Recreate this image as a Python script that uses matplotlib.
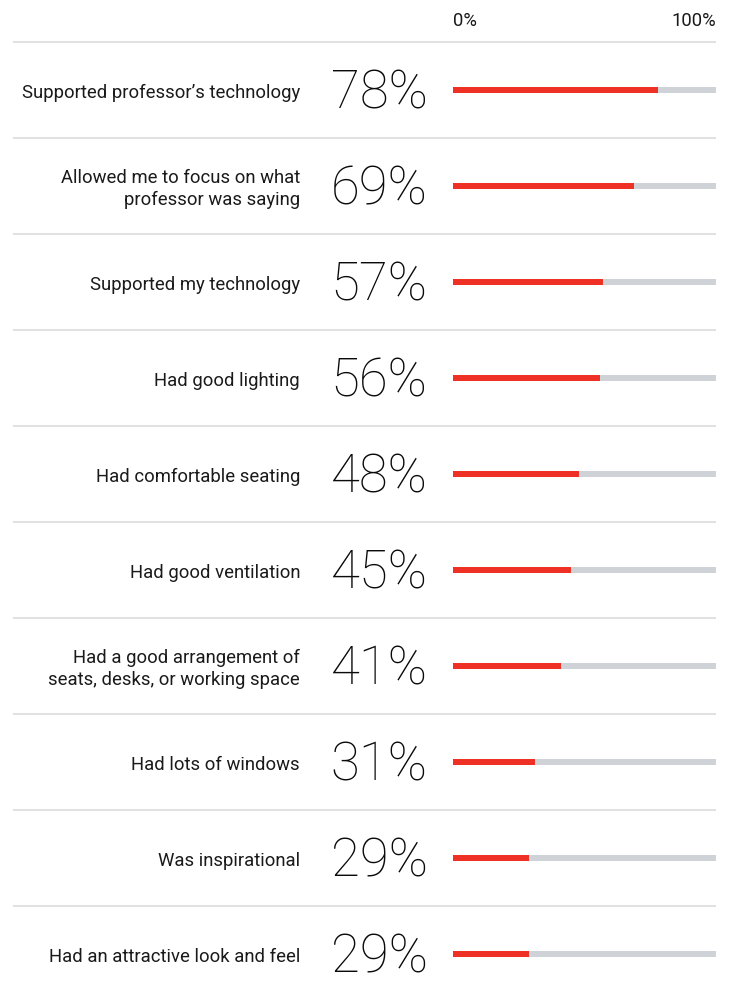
import matplotlib
matplotlib.use("Agg")
import matplotlib.pyplot as plt

categories = [
    "Supported professor\u2019s technology",
    "Allowed me to focus on what\nprofessor was saying",
    "Supported my technology",
    "Had good lighting",
    "Had comfortable seating",
    "Had good ventilation",
    "Had a good arrangement of\nseats, desks, or working space",
    "Had lots of windows",
    "Was inspirational",
    "Had an attractive look and feel",
]
values = [78, 69, 57, 56, 48, 45, 41, 31, 29, 29]
axis_labels = ["0%", "100%"]

W, H = 731, 996
fig = plt.figure(figsize=(W / 100, H / 100), dpi=100)
fig.patch.set_facecolor("white")

lay = fig.add_axes([0, 0, 1, 1])
lay.set_xlim(0, W)
lay.set_ylim(H, 0)
lay.axis("off")

row_top = 42
row_h = 96
n = len(categories)
sep_color = "#d9dbde"
for i in range(n):
    y = row_top + i * row_h
    lay.plot([13, 716], [y, y], color=sep_color, lw=1.2, solid_capstyle="butt")

label_font = dict(family=["Roboto", "DejaVu Sans"], fontsize=13.3, color="#1a1a1a", fontweight="normal")
pct_font = dict(family=["Roboto", "DejaVu Sans"], fontsize=38, color="#0a0a0a", fontweight="light")

for i, (cat, v) in enumerate(zip(categories, values)):
    yc = row_top + i * row_h + row_h / 2
    lay.text(300, yc + 3, cat, ha="right", va="center", linespacing=1.3, **label_font)
    lay.text(379, yc + 4, f"{v}%", ha="center", va="center", **pct_font)

lay.text(453, 21, axis_labels[0], ha="left", va="center", **label_font)
lay.text(716, 21, axis_labels[1], ha="right", va="center", **label_font)

x0, x1 = 453, 716
bax = fig.add_axes([x0 / W, 0, (x1 - x0) / W, 1])
bax.set_xlim(0, 100)
center0 = row_top + row_h / 2
bax.set_ylim((H - center0) / row_h, -center0 / row_h)
bax.axis("off")
bax.patch.set_alpha(0)
ypos = list(range(n))
bar_h = 6 / row_h
bax.barh(ypos, [100] * n, height=bar_h, color="#cfd2d6", linewidth=0)
bax.barh(ypos, values, height=bar_h, color="#ee3124", linewidth=0)

fig.savefig("out.png", dpi=100, facecolor="white")
